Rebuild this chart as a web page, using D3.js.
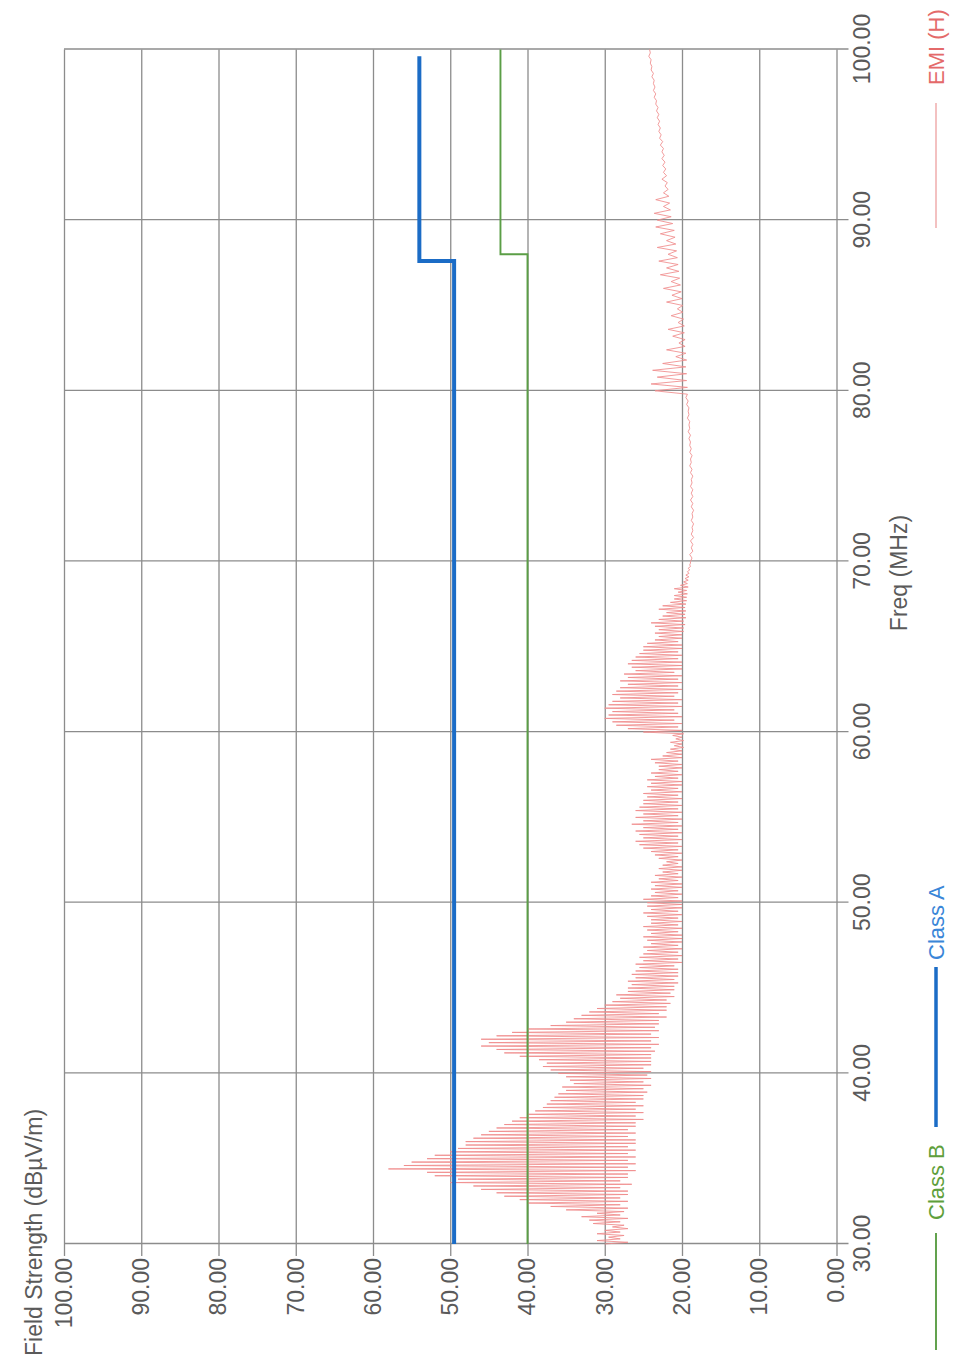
<!DOCTYPE html>
<html>
<head>
<meta charset="utf-8">
<script src="https://cdn.jsdelivr.net/npm/d3@7"></script>
<style>
  html, body { margin: 0; padding: 0; background: #ffffff; }
  svg { display: block; }
</style>
</head>
<body>
<div id="chart"></div>
<script>
// Tick values
const freqTicks = [30, 40, 50, 60, 70, 80, 90, 100];
const levelTicks = [0, 10, 20, 30, 40, 50, 60, 70, 80, 90, 100];

// Limit lines (step shapes)
const classAFreq = [30, 87.6, 87.6, 99.6];
const classALevel = [49.5, 49.5, 54, 54];
const classBFreq = [30, 88, 88, 100];
const classBLevel = [40, 40, 43.5, 43.5];

// EMI (H) sweep, 30 - 69.9 MHz, one reading every 0.1 MHz
const emiLowStart = 30;
const emiLowStep = 0.1;
const emiLowLevel = [
  30, 27, 31, 28, 29.5, 27.5, 31, 28, 30, 27,
  29, 27.5, 31.5, 28, 32, 27, 33, 28, 31, 27.5,
  35, 27, 37, 28, 40, 27, 41, 28, 43, 27,
  44, 27, 46, 28, 47, 26.5, 50, 28, 49, 27,
  52, 27, 53, 26, 58, 27, 56, 26, 55, 27,
  53, 26, 52, 27, 50, 26, 49, 27, 48, 26,
  48, 26, 47, 27, 46, 26, 45, 27, 44, 26,
  43, 26, 42, 25, 41, 26, 40, 25, 39, 26,
  38, 25, 37.5, 26, 37, 25, 36.5, 25, 36, 24.5,
  35, 25, 35.5, 24, 34, 25, 34.5, 24, 35, 24.5,
  36, 24, 37, 25, 38, 24, 37.5, 24, 38.5, 24,
  41, 24, 43, 23.5, 44, 24, 46, 23, 45, 24,
  46, 23, 44, 24, 42, 23, 40, 23.5, 37, 23,
  35, 23, 34, 22, 33, 23, 32, 22, 31, 22,
  30, 21.5, 29, 22, 28, 21, 28.5, 21.5, 27, 21,
  27, 21, 26.5, 20.5, 27, 21, 26, 20.5, 26.5, 20.5,
  26, 20.5, 25.5, 21, 26, 20, 25, 20.5, 25.5, 20,
  25, 20.5, 24.5, 20, 25, 20.5, 24, 20, 24.5, 20,
  25, 20, 24, 20.5, 24.5, 20, 25, 20.5, 24, 20,
  24, 20.5, 24.5, 20, 25, 20.5, 24, 20, 24.5, 20,
  24.5, 20, 25, 20.5, 24, 20, 23.5, 20.5, 24, 20,
  23.5, 20, 24, 20.5, 23, 20, 23.5, 20.5, 22.5, 20,
  23, 20, 22.5, 20.5, 22, 20, 23, 20.5, 23.5, 20,
  24, 20.5, 25, 20, 25.5, 20.5, 26, 20, 25, 20.5,
  25.5, 20, 26, 20.5, 25, 20, 26.5, 20.5, 25, 20,
  26, 20.5, 25, 20, 26, 20.5, 25.5, 20, 25, 20.5,
  25, 20, 24.5, 20.5, 25, 20, 24, 20.5, 24.5, 20,
  24, 20, 24.5, 20.5, 23.5, 20, 24, 20.5, 23, 20,
  23, 20, 23.5, 20.5, 24, 20, 22.5, 20, 22, 20,
  21.5, 19.8, 21, 20, 21.5, 19.8, 20.8, 20, 21.2, 19.8,
  25, 20, 27, 20.5, 28.5, 20, 29, 21, 30, 20,
  29.5, 20.5, 29, 21, 30, 20, 29.5, 20.5, 29, 20,
  28, 21, 29, 20.5, 28.5, 20, 28, 20.5, 27, 20,
  28, 20.5, 27, 20, 27.5, 21, 26, 20, 26.5, 20,
  27, 20, 26.5, 20.5, 26, 20, 25.5, 20.5, 25, 20,
  25, 20, 24.5, 20.5, 23.5, 20, 23, 20, 23.5, 19.8,
  23, 19.8, 23.5, 19.6, 24, 19.8, 23, 19.5, 22.5, 19.6,
  22, 19.5, 23, 19.6, 22.5, 19.5, 21.5, 19.4, 21, 19.4,
  21, 19.3, 20.5, 19.4, 21, 19.2, 20.2, 19.3, 19.8, 19.2,
  19.6, 19.1, 19.5, 19.1, 19.3, 19.0, 19.2, 18.9, 19.0, 18.9
];

// EMI (H) sweep, 70 - 100 MHz, one reading every 0.2 MHz
const emiHighStart = 70;
const emiHighStep = 0.2;
const emiHighLevel = [
  18.9, 18.7, 19.0, 18.6, 18.8,   18.6, 18.9, 18.5, 18.8, 18.6,   18.7, 18.5, 18.8, 18.6, 18.7,
  18.5, 18.8, 18.6, 18.9, 18.6,   18.8, 18.6, 18.9, 18.7, 18.8,   18.6, 18.9, 18.7, 19.0, 18.8,
  18.9, 18.7, 19.0, 18.8, 19.0,   18.9, 19.1, 18.9, 19.2, 19.0,   19.1, 19.0, 19.3, 19.1, 19.2,
  19.1, 19.4, 19.2, 19.5, 19.3,
  23.5, 19.3, 24.0, 19.4, 23.2,   19.4, 23.8, 19.5, 22.5, 19.4,   20.8, 19.5, 22.0, 19.6, 20.4,
  19.6, 21.2, 19.7, 21.8, 19.7,   20.5, 19.8, 21.4, 19.9, 20.6,   19.9, 22.0, 20.0, 21.3, 20.1,
  22.4, 20.2, 21.4, 20.3, 22.8,   20.4, 22.0, 20.5, 23.0, 20.6,   21.8, 20.7, 23.2, 20.8, 22.0,
  20.9, 22.8, 21.0, 23.4, 21.2,
  23.2, 21.4, 23.6, 21.5, 22.4,   21.6, 23.4, 21.7, 22.4, 21.8,   22.2, 21.9, 22.6, 22.0, 22.4,
  22.1, 22.5, 22.2, 22.6, 22.3,   22.6, 22.4, 22.8, 22.5, 22.9,   22.7, 23.0, 22.8, 23.1, 22.9,
  23.2, 23.0, 23.3, 23.1, 23.4,   23.3, 23.6, 23.4, 23.7, 23.5,   23.7, 23.6, 23.9, 23.7, 24.0,
  23.9, 24.1, 24.0, 24.3, 24.1,
  24.2
];

const pageWidth = 953;
const pageHeight = 1363;

// The chart is drawn landscape, then turned a quarter turn onto the page
const originX = 64;     // page x of level 100
const originY = 1244;   // page y of 30 MHz
const W = 1194.5;       // frequency span in px
const H = 772.5;        // level span in px

const font = "'Liberation Sans', Arial, sans-serif";
const textColor = "#5a5a5a";
const gridColor = "#8c8c8c";

const svg = d3.select("#chart")
    .append("svg")
    .attr("width", pageWidth)
    .attr("height", pageHeight);

svg.append("rect")
    .attr("width", pageWidth)
    .attr("height", pageHeight)
    .attr("fill", "#ffffff");

const chart = svg.append("g")
    .attr("transform", `translate(${originX},${originY}) rotate(-90)`);

const x = d3.scaleLinear().domain([30, 100]).range([0, W]);
const y = d3.scaleLinear().domain([0, 100]).range([H, 0]);

// Frequency axis with full-height grid
const xAxis = chart.append("g")
    .attr("transform", `translate(0,${H + 12})`)
    .call(d3.axisBottom(x)
        .tickValues(freqTicks)
        .tickSize(-(H + 12))
        .tickPadding(5)
        .tickFormat(d3.format(".2f")));

// Level axis with full-width grid
const yAxis = chart.append("g")
    .attr("transform", "translate(-12,0)")
    .call(d3.axisLeft(y)
        .tickValues(levelTicks)
        .tickSize(-(W + 12))
        .tickPadding(2)
        .tickFormat(d3.format(".2f")));

[xAxis, yAxis].forEach(a => {
    a.select(".domain").remove();
    a.selectAll(".tick line")
        .attr("stroke", gridColor)
        .attr("stroke-width", 1.3);
    a.selectAll(".tick text")
        .style("font-family", font)
        .style("font-size", "23px")
        .style("fill", textColor);
});

// EMI trace: both sweep segments joined into one line
const emiPoints = emiLowLevel.map((v, i) => ({ f: emiLowStart + i * emiLowStep, v }))
    .concat(emiHighLevel.map((v, i) => ({ f: emiHighStart + i * emiHighStep, v })));

const emiLine = d3.line()
    .x(d => x(d.f))
    .y(d => y(d.v));

chart.append("path")
    .datum(emiPoints)
    .attr("d", emiLine)
    .attr("fill", "none")
    .attr("stroke", "#f08c8c")
    .attr("stroke-width", 1)
    .attr("stroke-opacity", 0.85)
    .attr("stroke-linejoin", "round");

// Limit lines
const stepLine = (freqs) => d3.line()
    .x((d, i) => x(freqs[i]))
    .y(d => y(d));

chart.append("path")
    .datum(classBLevel)
    .attr("d", stepLine(classBFreq))
    .attr("fill", "none")
    .attr("stroke", "#5b9e46")
    .attr("stroke-width", 1.9);

chart.append("path")
    .datum(classALevel)
    .attr("d", stepLine(classAFreq))
    .attr("fill", "none")
    .attr("stroke", "#1b6cc6")
    .attr("stroke-width", 4);

// Axis titles
chart.append("text")
    .attr("x", -112)
    .attr("y", -22)
    .style("font-family", font)
    .style("font-size", "23px")
    .style("fill", textColor)
    .text("Field Strength (dBµV/m)");

chart.append("text")
    .attr("x", 671)
    .attr("y", 843)
    .attr("text-anchor", "middle")
    .style("font-family", font)
    .style("font-size", "23px")
    .style("fill", textColor)
    .text("Freq (MHz)");

// Legend: line then label, along the right edge of the page
const legendItems = [
    { name: "Class B", color: "#5b9e46", text: "#5f9f3c", width: 1.9, x0: -106, x1: 11, tx: 24 },
    { name: "Class A", color: "#1b6cc6", text: "#3a86d8", width: 3.5, x0: 117, x1: 277, tx: 284 },
    { name: "EMI (H)", color: "#eda0a0", text: "#e46a6a", width: 1.3, x0: 1016, x1: 1141, tx: 1159 }
];

const legend = chart.append("g");

legendItems.forEach(item => {
    legend.append("line")
        .attr("x1", item.x0)
        .attr("x2", item.x1)
        .attr("y1", 872)
        .attr("y2", 872)
        .attr("stroke", item.color)
        .attr("stroke-width", item.width);

    legend.append("text")
        .attr("x", item.tx)
        .attr("y", 880)
        .style("font-family", font)
        .style("font-size", "22px")
        .style("fill", item.text)
        .text(item.name);
});
</script>
</body>
</html>
